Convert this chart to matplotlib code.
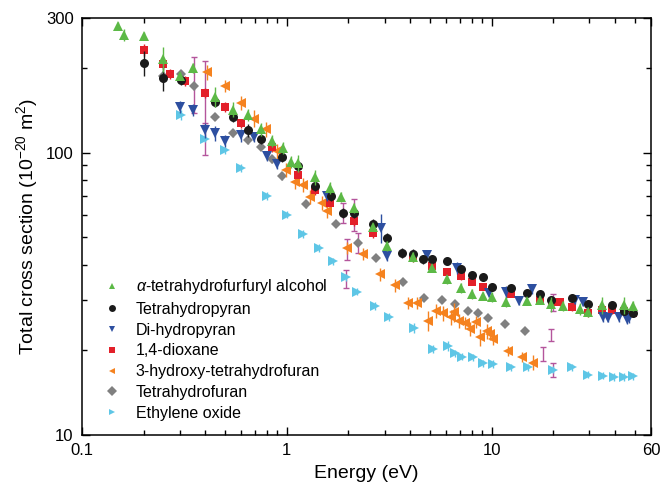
import matplotlib
matplotlib.use("Agg")
from matplotlib import pyplot as plt
from matplotlib.lines import Line2D
from matplotlib.ticker import FixedLocator, NullFormatter, LogLocator
import numpy as np

plt.rcParams['font.family'] = ['Liberation Sans', 'DejaVu Sans']
plt.rcParams['mathtext.fontset'] = 'custom'
plt.rcParams['mathtext.rm'] = 'Liberation Sans'
plt.rcParams['mathtext.it'] = 'Liberation Sans:italic'
plt.rcParams['mathtext.bf'] = 'Liberation Sans:bold'

# alpha-tetrahydrofurfuryl alcohol
thfa_e = [0.150, 0.160, 0.201, 0.248, 0.301, 0.348, 0.446, 0.545, 0.645, 0.747, 0.845, 0.953,
          1.047, 1.13, 1.38, 1.62, 1.83, 2.12, 2.63, 3.08, 4.12, 5.10, 6.03, 7.06, 7.99, 9.03,
          10.0, 11.8, 14.8, 17.3, 19.6, 22.2, 26.9, 29.4, 34.4, 44.1, 48.8]
thfa_cs = [281, 261, 259, 215, 187, 199, 158, 142, 136, 121, 110, 104,
           92.6, 91.9, 81.9, 75.0, 69.7, 63.7, 54.6, 46.7, 42.6, 39.1, 35.5, 33.2, 31.6, 31.1,
           30.8, 29.5, 29.8, 30.0, 29.0, 28.6, 27.9, 27.2, 28.8, 28.8, 28.6]
thfa_err = [3, 5, 3, 10, 3, 4, 8, 6, 5, 5, 5, 5, 5, 7, 6, 5, 4, 4, 3, 4, 4, 3, 4, 4, 4, 3,
            4, 4, 3, 3, 6, 4, 5, 4, 7, 7, 4]

# tetrahydropyran
thp_e = [0.201, 0.248, 0.305, 0.446, 0.545, 0.645, 0.747, 0.946, 1.13, 1.38, 1.64, 1.88,
         2.12, 2.63, 3.08, 3.64, 4.12, 4.61, 5.10, 6.03, 7.06, 7.99, 9.03, 10.0, 12.4, 14.8,
         17.3, 19.6, 24.6, 29.4, 38.9, 44.1, 48.8]
thp_cs = [208, 184, 181, 151, 134, 120, 112, 96.3, 89.5, 76.3, 70.2, 61.2,
          61.2, 55.9, 49.8, 44.0, 43.7, 41.8, 41.8, 41.1, 38.8, 36.7, 36.1, 33.5, 33.2, 31.8,
          31.6, 30.1, 30.6, 29.0, 28.8, 27.5, 27.0]
thp_err = [10, 10, 4, 4, 4, 5, 4, 4, 4, 4, 4, 4, 4, 4, 4, 4, 4, 4, 4, 3, 3, 3, 3, 3, 3, 3,
           3, 3, 3, 3, 3, 3, 3]

# di-hydropyran
dhp_e = [0.301, 0.348, 0.398, 0.446, 0.499, 0.597, 0.690, 0.799, 0.894, 1.57, 2.88, 3.08,
         4.82, 6.75, 9.66, 11.7, 13.6, 15.7, 25.4, 27.8, 34.8, 36.8, 41.7, 45.6, 47.1]
dhp_cs = [145, 142, 120, 117, 110, 115, 114, 97.1, 91.1, 70.2, 54.1, 42.9,
          43.3, 39.1, 31.8, 32.1, 29.8, 32.9, 30.0, 29.5, 26.1, 25.9, 26.1, 25.7, 25.9]
dhp_err = [5, 5, 6, 6, 5, 5, 4, 4, 4, 4, 12, 4, 3, 5, 3, 5, 3, 4, 3, 3, 4, 3, 4, 4, 4]

# 1,4-dioxane
dx_e = [0.201, 0.248, 0.269, 0.318, 0.398, 0.499, 0.597, 0.845, 1.13, 1.38, 1.62, 2.12,
        2.63, 4.12, 5.10, 6.03, 7.06, 7.99, 9.03, 12.4, 17.3, 19.8, 21.5, 24.8, 29.4, 34.4,
        38.9, 44.1, 48.8]
dx_cs = [231, 206, 190, 179, 163, 145, 127, 105, 83.4, 73.8, 66.4, 57.3,
         51.9, 42.2, 39.5, 37.6, 36.4, 34.9, 33.5, 31.6, 30.1, 29.5, 29.5, 28.3, 27.0, 27.7,
         27.7, 27.5, 27.0]
dx_err = [5, 4, 4, 4, 4, 4, 4, 4, 4, 4, 4, 4, 4, 3, 3, 3, 3, 3, 3, 3, 3, 3, 3, 3, 3, 3,
          3, 3, 3]

# 3-hydroxy-tetrahydrofuran
hthf_e = [0.407, 0.499, 0.597, 0.690, 0.790, 0.894, 0.990, 1.094, 1.197, 1.30, 1.49, 1.57,
          1.96, 2.35, 2.85, 3.37, 3.89, 4.31, 4.87, 5.33, 5.77, 6.31, 6.53, 6.90, 7.43, 7.81,
          8.37, 8.74, 9.45, 9.77, 10.1, 12.0, 14.0, 16.0]
hthf_cs = [193, 172, 150, 132, 121, 101, 86.8, 78.8, 76.9, 69.7, 66.4, 62.2,
           45.9, 43.7, 37.0, 33.8, 29.3, 29.3, 25.3, 27.5, 27.0, 26.1, 27.2, 25.3, 24.9, 23.7,
           25.1, 22.1, 23.3, 22.7, 21.9, 19.8, 18.8, 18.0]
hthf_err = [6, 5, 6, 7, 6, 6, 6, 6, 6, 6, 6, 6, 5, 5, 5, 5, 5, 5, 8, 6, 6, 6, 8, 6, 5, 6,
            5, 7, 6, 5, 5, 4, 4, 6]

# tetrahydrofuran
thf_e = [0.248, 0.305, 0.352, 0.446, 0.545, 0.645, 0.747, 0.845, 0.946, 1.24, 1.73, 2.22,
         2.72, 3.68, 4.66, 5.70, 6.60, 7.64, 8.55, 9.55, 11.6, 14.5]
thf_cs = [187, 190, 172, 134, 117, 111, 105, 94.9, 82.7, 65.8, 55.9, 47.8,
          42.2, 34.9, 30.6, 30.0, 29.0, 27.5, 27.0, 25.9, 24.7, 23.3]
thf_err = [3, 3, 3, 3, 3, 3, 3, 3, 3, 3, 2, 2, 2, 2, 2, 2, 2, 2, 2, 2, 2, 2]

# ethylene oxide
eo_e = [0.304, 0.398, 0.499, 0.597, 0.799, 1.0, 1.197, 1.432, 1.69, 1.94, 2.19, 2.69,
        3.15, 4.17, 5.15, 6.10, 6.60, 7.14, 8.08, 9.03, 10.1, 12.5, 15.0, 19.9, 24.8, 29.4,
        34.8, 39.4, 44.1, 48.8]
eo_cs = [136, 112, 102, 88.2, 70.2, 60.2, 51.5, 45.9, 41.1, 36.1, 32.1, 28.6,
         26.1, 23.9, 20.1, 20.6, 19.4, 18.9, 18.8, 17.9, 17.8, 17.3, 17.3, 17.0, 17.3, 16.3,
         16.2, 16.0, 16.0, 16.1]
eo_err = [4, 3, 3, 3, 3, 3, 3, 3, 3, 3, 3, 3, 3, 4, 3, 4, 3, 3, 3, 3, 3, 3, 3, 3, 3, 3,
          3, 3, 3, 3]

# extra magenta error bars seen on some points: energy, value, low, high
mag_e = [0.352, 0.398, 0.398, 1.88, 1.96, 2.12, 2.22, 1.94, 17.9, 19.4, 19.85, 19.85]
mag_cs = [172, 163, 112, 61.2, 45.9, 57.3, 47.8, 36.1, 19.4, 22.7, 30.1, 17.0]
mag_lo = [138, 127, 98, 56.4, 41.5, 52.9, 44.0, 33.0, 18.3, 21.5, 27.5, 16.0]
mag_hi = [218, 212, 125, 66.4, 49.2, 68.7, 51.9, 38.3, 20.4, 23.7, 31.6, 17.9]

labels = [r'$\alpha$-tetrahydrofurfuryl alcohol', 'Tetrahydropyran', 'Di-hydropyran',
          '1,4-dioxane', '3-hydroxy-tetrahydrofuran', 'Tetrahydrofuran', 'Ethylene oxide']
series = [(thfa_e, thfa_cs, thfa_err), (thp_e, thp_cs, thp_err), (dhp_e, dhp_cs, dhp_err),
          (dx_e, dx_cs, dx_err), (hthf_e, hthf_cs, hthf_err), (thf_e, thf_cs, thf_err),
          (eo_e, eo_cs, eo_err)]
colors = ['#5cb946', '#1a1a1a', '#2d4fa0', '#e3202a', '#f5821f', '#808080', '#5ec6e6']
markers = ['^', 'o', 'v', 's', '<', 'D', '>']
sizes = [7, 6.5, 7, 5.8, 7, 5.5, 7]

fig = plt.figure(figsize=(6.6, 4.95), dpi=100)
ax = fig.add_axes([0.1242, 0.122, 0.8622, 0.8416])

# draw in reverse so the first series sits on top
for i in reversed(range(len(series))):
    e, cs, err = series[i]
    cs = np.array(cs)
    yerr = cs * np.array(err) / 100.0
    ax.errorbar(e, cs, yerr=yerr, fmt=markers[i], color=colors[i], ms=sizes[i],
                mew=0, elinewidth=1, capsize=2.5, capthick=1, zorder=3 + (6 - i) * 0.1)

mag_cs_a = np.array(mag_cs)
ax.errorbar(mag_e, mag_cs_a, yerr=[mag_cs_a - np.array(mag_lo), np.array(mag_hi) - mag_cs_a],
            fmt='none', ecolor='#b4559c', elinewidth=1, capsize=2.5, capthick=1, zorder=2.5)

ax.set_xscale('log')
ax.set_yscale('log')
ax.set_xlim(0.1, 60)
ax.set_ylim(10, 300)

ax.xaxis.set_major_locator(FixedLocator([0.1, 1, 10, 60]))
ax.set_xticklabels(['0.1', '1', '10', '60'])
ax.xaxis.set_minor_locator(LogLocator(base=10, subs=np.arange(2, 10)))
ax.xaxis.set_minor_formatter(NullFormatter())
ax.yaxis.set_major_locator(FixedLocator([10, 100, 300]))
ax.set_yticklabels(['10', '100', '300'])
ax.yaxis.set_minor_locator(LogLocator(base=10, subs=np.arange(2, 10)))
ax.yaxis.set_minor_formatter(NullFormatter())

ax.tick_params(which='both', direction='in', top=True, right=True, width=1, labelsize=12, pad=6)
ax.tick_params(which='major', length=6)
ax.tick_params(which='minor', length=3.5)
for s in ax.spines.values():
    s.set_linewidth(1.1)

ax.set_xlabel('Energy (eV)', fontsize=14, labelpad=5)
ax.set_ylabel(r'Total cross section (10$^{-20}$ m$^{2}$)', fontsize=14, labelpad=4)

handles = [Line2D([], [], ls='none', marker=markers[i], color=colors[i], ms=5, mew=0)
           for i in range(len(labels))]
ax.legend(handles, labels, loc='upper left', bbox_to_anchor=(0.041, 0.378), frameon=False,
          fontsize=11.5, handlelength=0.8, handletextpad=1.1, labelspacing=0.36,
          borderaxespad=0, borderpad=0)

plt.savefig('out.png', dpi=100)
